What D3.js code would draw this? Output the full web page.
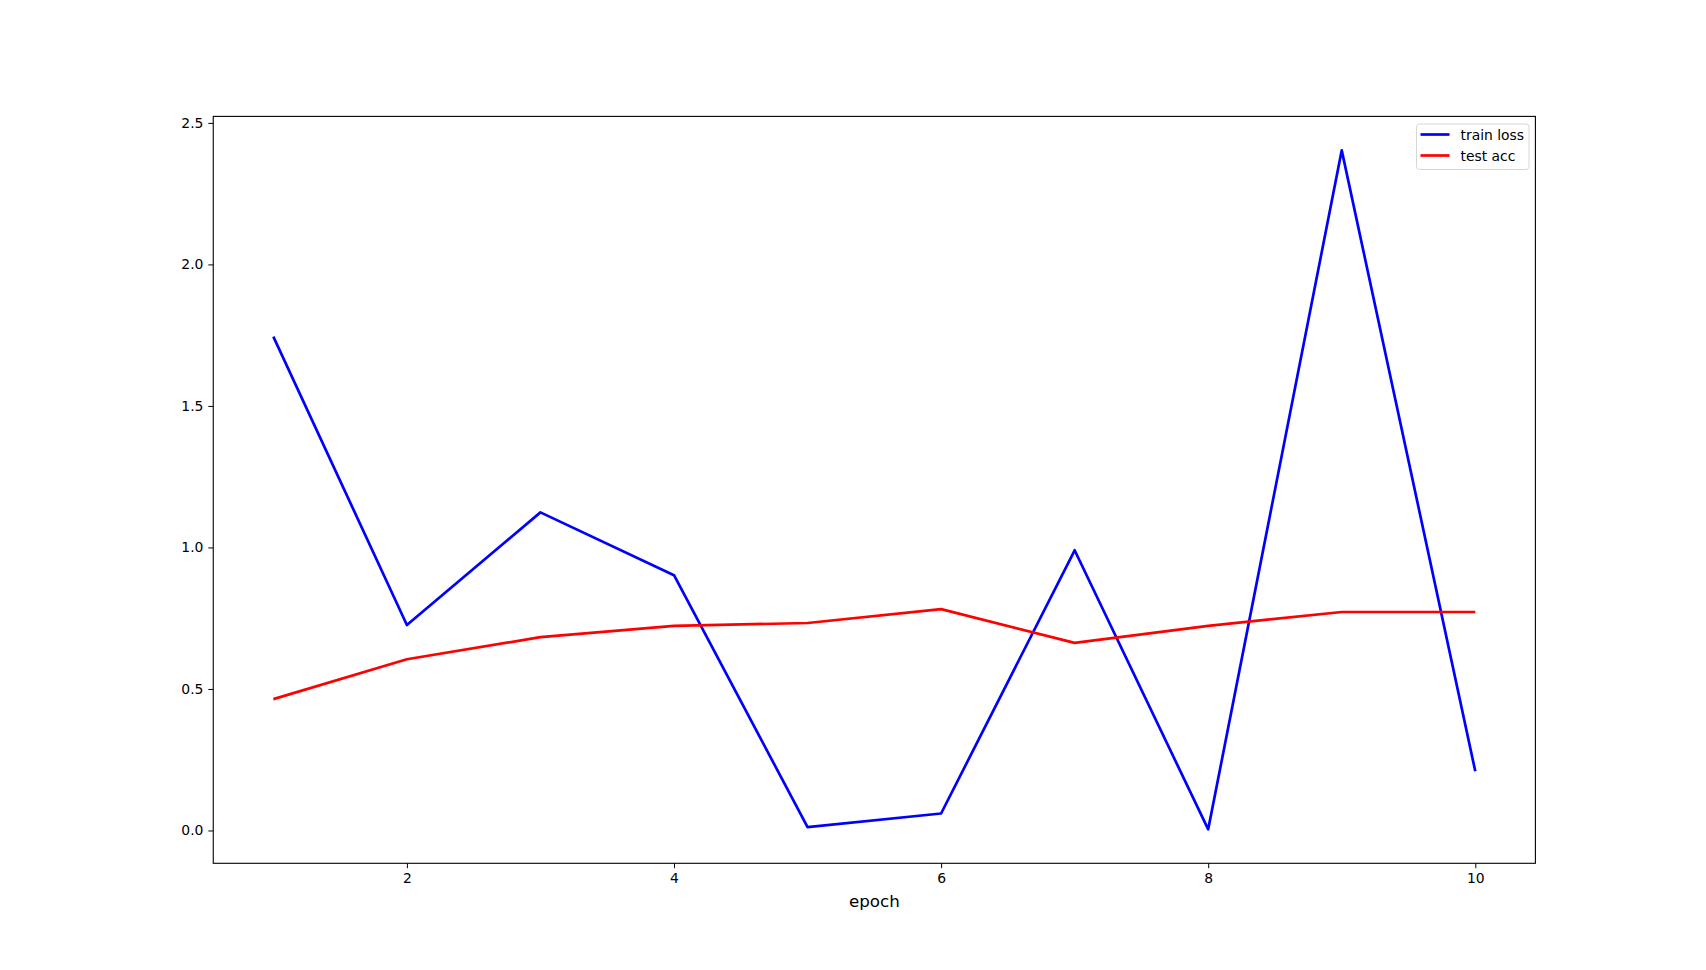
<!DOCTYPE html>
<html>
<head>
<meta charset="utf-8">
<script src="https://cdn.jsdelivr.net/npm/d3@7"></script>
<style>
  body { margin: 0; background: #fff; }
  text { font-family: "DejaVu Sans", sans-serif; }
</style>
</head>
<body>
<div id="chart-container"></div>
<script>
const epochs = [1, 2, 3, 4, 5, 6, 7, 8, 9, 10];
const trainLoss = [1.745, 0.726, 1.124, 0.902, 0.012, 0.06, 0.99, 0.004, 2.403, 0.209];
const testAcc = [0.464, 0.605, 0.683, 0.723, 0.733, 0.782, 0.663, 0.723, 0.772, 0.772];
const xTicks = [2, 4, 6, 8, 10];
const yTicks = [0.0, 0.5, 1.0, 1.5, 2.0, 2.5];

const width = 1706;
const height = 970;
const margin = { left: 213.25, right: 170.6, top: 116.4, bottom: 106.7 };

const svg = d3
  .select("#chart-container")
  .append("svg")
  .attr("width", width)
  .attr("height", height);

// matplotlib style 5% margins
const xMin = d3.min(epochs), xMax = d3.max(epochs);
const allY = trainLoss.concat(testAcc);
const yMin = d3.min(allY), yMax = d3.max(allY);
const xPad = (xMax - xMin) * 0.05;
const yPad = (yMax - yMin) * 0.05;

let xScale = d3
  .scaleLinear()
  .domain([xMin - xPad, xMax + xPad])
  .range([margin.left, width - margin.right]);

let yScale = d3
  .scaleLinear()
  .domain([yMin - yPad, yMax + yPad])
  .range([height - margin.bottom, margin.top]);

let xAxis = d3.axisBottom(xScale)
  .tickValues(xTicks)
  .tickFormat(d3.format("d"))
  .tickSizeOuter(0)
  .tickSize(4.9)
  .tickPadding(4.9);

let yAxis = d3.axisLeft(yScale)
  .tickValues(yTicks)
  .tickFormat(d3.format(".1f"))
  .tickSizeOuter(0)
  .tickSize(4.9)
  .tickPadding(4.9);

const gx = svg.append("g")
  .attr("transform", `translate(0, ${height - margin.bottom})`)
  .call(xAxis);
const gy = svg.append("g")
  .attr("transform", `translate(${margin.left}, 0)`)
  .call(yAxis);

[gx, gy].forEach((g) => {
  g.select(".domain").remove();
  g.selectAll(".tick line").attr("stroke", "#000").attr("stroke-width", 1);
  g.selectAll(".tick text")
    .attr("fill", "#000")
    .style("font-size", "13.9px")
    .style("font-family", "DejaVu Sans, sans-serif");
});

/**
 * lines
 */
const line = (vals) =>
  d3.line()
    .x((d, i) => xScale(epochs[i]))
    .y((d) => yScale(d))(vals);

svg.append("path")
  .attr("d", line(trainLoss))
  .attr("fill", "none")
  .attr("stroke", "#0000ff")
  .attr("stroke-width", 2.7)
  .attr("stroke-linejoin", "round");

svg.append("path")
  .attr("d", line(testAcc))
  .attr("fill", "none")
  .attr("stroke", "#ff0000")
  .attr("stroke-width", 2.7)
  .attr("stroke-linejoin", "round");

// axes frame
svg.append("rect")
  .attr("x", margin.left)
  .attr("y", margin.top)
  .attr("width", width - margin.left - margin.right)
  .attr("height", height - margin.top - margin.bottom)
  .attr("fill", "none")
  .attr("stroke", "#000")
  .attr("stroke-width", 1.1);

svg.append("text")
  .attr("x", (margin.left + width - margin.right) / 2)
  .attr("y", height - margin.bottom + 44)
  .attr("text-anchor", "middle")
  .style("font-size", "16.7px")
  .text("epoch");

/**
 * legend
 */
const legendItems = [
  { name: "train loss", color: "#0000ff" },
  { name: "test acc", color: "#ff0000" },
];
const lgX = 1416.5, lgY = 124, lgW = 112.5, lgH = 45.5;
const legend = svg.append("g");
legend.append("rect")
  .attr("x", lgX)
  .attr("y", lgY)
  .attr("width", lgW)
  .attr("height", lgH)
  .attr("rx", 3)
  .attr("fill", "#fff")
  .attr("fill-opacity", 0.8)
  .attr("stroke", "#d6d6d6")
  .attr("stroke-width", 1);

legendItems.forEach((item, i) => {
  const y = lgY + 10.5 + i * 21;
  legend.append("line")
    .attr("x1", lgX + 4)
    .attr("x2", lgX + 33)
    .attr("y1", y)
    .attr("y2", y)
    .attr("stroke", item.color)
    .attr("stroke-width", 2.7);
  legend.append("text")
    .attr("x", lgX + 44)
    .attr("y", y + 5)
    .style("font-size", "13.9px")
    .text(item.name);
});
</script>
</body>
</html>
